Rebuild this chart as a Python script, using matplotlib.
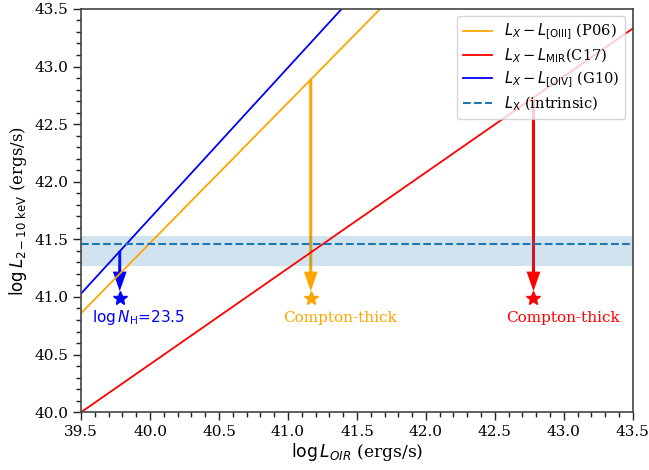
import matplotlib
matplotlib.use("Agg")
import matplotlib.pyplot as plt
from matplotlib.ticker import MultipleLocator

plt.rcParams['font.family'] = ['DejaVu Serif']
plt.rcParams['mathtext.fontset'] = 'dejavusans'

# Relation lines (log L_OIR -> log L_X)
oir_x = [39.5, 43.5]
p06_y = [40.86, 45.73]
c17_y = [40.0, 43.33]
g10_y = [41.03, 46.26]

# Intrinsic L_X with uncertainty band
lx_intr = 41.46
lx_low = 41.27
lx_high = 41.53

# Arrows (from relation down to observed) and stars
arrow_x = [39.78, 41.165, 42.78]
arrow_top = [41.40, 42.89, 42.73]
arrow_tip = [41.05, 41.05, 41.05]
star_y = [40.99, 40.99, 40.99]
arrow_colors = ['blue', 'orange', 'red']
star_labels = [r'$\log N_{\rm H}$=23.5', 'Compton-thick', 'Compton-thick']
label_fonts = ['DejaVu Sans', 'DejaVu Serif', 'DejaVu Serif']

fig = plt.figure(figsize=(6.49, 4.70), dpi=100)
ax = fig.add_axes([0.125, 0.123, 0.85, 0.858])

l1, = ax.plot(oir_x, p06_y, color='orange', lw=1.3, label=r'$L_X - L_{\rm [OIII]}$ (P06)')
l2, = ax.plot(oir_x, c17_y, color='red', lw=1.3, label=r'$L_X - L_{\rm MIR}$(C17)')
l3, = ax.plot(oir_x, g10_y, color='blue', lw=1.3, label=r'$L_X - L_{\rm [OIV]}$ (G10)')

for x, yt, ytip, ys, c, lab, fam in zip(arrow_x, arrow_top, arrow_tip, star_y,
                                         arrow_colors, star_labels, label_fonts):
    ax.arrow(x, yt, 0, ytip - yt, width=0.022, head_width=0.1, head_length=0.17,
             length_includes_head=True, color=c, lw=0)
    ax.plot([x], [ys], marker='*', color=c, ms=10, ls='none')
    ax.text(x - 0.2, ys - 0.17, lab, color=c, fontsize=11, ha='left', va='center',
            family=fam)

ax.axhspan(lx_low, lx_high, color='tab:blue', alpha=0.2, lw=0)
l4 = ax.axhline(lx_intr, color='tab:blue', ls='--', lw=1.5, label=r'$L_{\rm X}$ (intrinsic)')

ax.set_xlim(39.5, 43.5)
ax.set_ylim(40.0, 43.5)
ax.xaxis.set_major_locator(MultipleLocator(0.5))
ax.xaxis.set_minor_locator(MultipleLocator(0.1))
ax.yaxis.set_major_locator(MultipleLocator(0.5))
ax.yaxis.set_minor_locator(MultipleLocator(0.1))
ax.tick_params(which='major', direction='out', length=5.5, width=1.0, labelsize=11, color='#222222')
ax.tick_params(which='minor', direction='out', length=3.5, width=1.0, color='#222222')
for s in ax.spines.values():
    s.set_linewidth(1.2)
    s.set_color('#444444')

ax.set_xlabel(r'$\log L_{OIR}$ (ergs/s)', fontsize=12.3, labelpad=2)
ax.set_ylabel(r'$\log L_{2-10\ \rm keV}$ (ergs/s)', fontsize=12, labelpad=4)

ax.legend(handles=[l1, l2, l3, l4], loc='upper right', fontsize=10.5, labelspacing=0.3)

fig.savefig('out.png', dpi=100)
